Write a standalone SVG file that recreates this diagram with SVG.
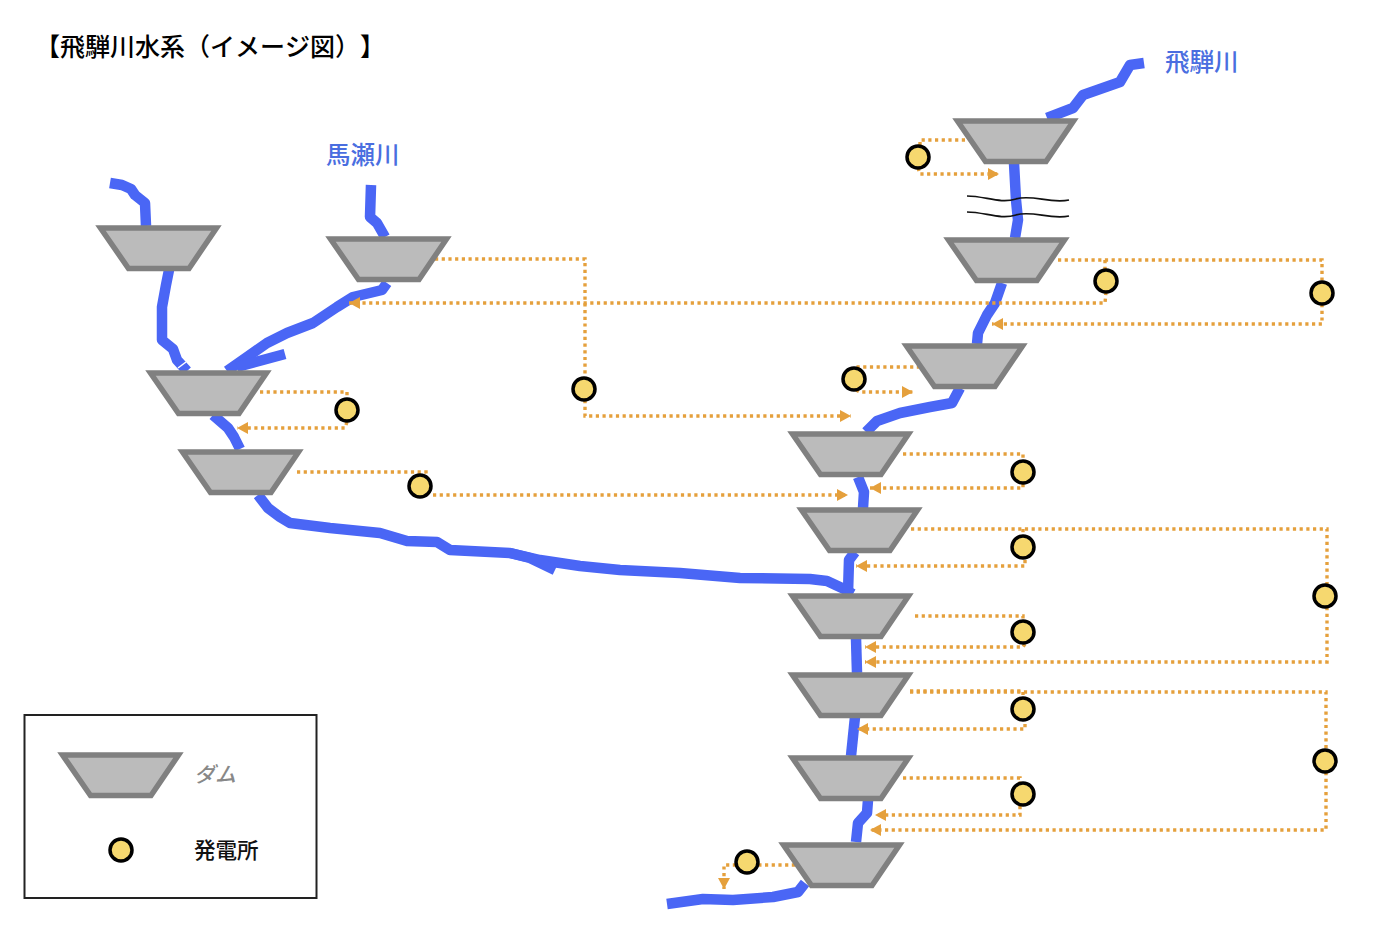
<svg xmlns="http://www.w3.org/2000/svg" width="1400" height="934" viewBox="0 0 1400 934">
<style>
text{font-family:"Noto Sans CJK JP","Noto Sans",sans-serif;font-kerning:none;font-feature-settings:"chws" 0,"palt" 0;text-spacing-trim:space-all}
.river{fill:none;stroke:#4a66f5;stroke-width:10.5;stroke-linejoin:round}
.pipe{fill:none;stroke:#e5a03c;stroke-width:3.4;stroke-dasharray:3.2 3.5;marker-end:url(#ah)}
.pipe0{fill:none;stroke:#e5a03c;stroke-width:3.4;stroke-dasharray:3.2 3.5}
.dam{fill:#bbb;stroke:#808080;stroke-width:5.5}
.ps{fill:#f6d86f;stroke:#000;stroke-width:3.5}
.lab{fill:#4a6ee0;font-size:24.5px;font-weight:500}
.wave{fill:none;stroke:#111;stroke-width:1.7}
</style>
<defs>
<marker id="ah" markerUnits="userSpaceOnUse" markerWidth="12" markerHeight="14" refX="11" refY="7" orient="auto"><path d="M0 1L11 7L0 13Z" fill="#e5a03c"/></marker>
<polygon id="d" points="4.5,3 120.5,3 93,43.5 32.5,43.5"/>
<circle id="c" r="11"/>
</defs>
<rect width="1400" height="934" fill="#fff"/>
<text x="35" y="56" font-size="25" fill="#000" font-weight="500">【飛騨川水系（イメージ図）】</text>
<text class="lab" x="1165" y="71">飛騨川</text>
<text class="lab" x="326" y="164">馬瀬川</text>
<g id="rivers">
<path class="river" d="M110 183L122 185L131 189L135 195L145 203L146 226"/>
<path class="river" d="M169 270L166 285L162 307L162 340L173 349L177 360L187 371"/>
<path class="river" d="M371 185L370 217L377 223L385 237"/>
<path class="river" d="M387 283L382 290L353 297L337 307L313 323L287 333L267 343L247 357L227 371"/>
<path class="river" d="M285 354L237 367"/>
<path class="river" d="M213 415L228 428L234 437L240 449"/>
<path class="river" d="M258 495L268 508L280 517L290 523L330 528L380 533L407 541L437 542L450 550L510 553L540 560L580 566L620 570L680 573L740 578L810 579L827 581L842 588L853 594"/>
<path class="river" d="M510 553L530 558L555 570"/>
<path class="river" d="M855 552L849 560L848 593"/>
<path class="river" d="M1144 63L1130 65L1120 82L1083 95L1073 108L1047 118"/>
<path class="river" d="M1014 163L1016 200L1018 220L1015 238"/>
<path class="river" d="M1002 283L995 303L987 315L978 333L977 344"/>
<path class="river" d="M960 388L952 403L930 407L900 413L877 421L866 432"/>
<path class="river" d="M858 477L864 492L863 508"/>
<path class="river" d="M856 638L857 673"/>
<path class="river" d="M855 717L851 756"/>
<path class="river" d="M868 800L867 813L858 823L856 842"/>
<path class="river" d="M805 883L798 892L773 897L733 900L703 899L667 904"/>
<path d="M178 368L186 362" stroke="#fff" stroke-width="1.5"/>
</g>
<g id="waves">
<path class="wave" d="M967 196C985 196 1000 204 1016 199C1032 194 1050 204 1069 200"/>
<path class="wave" d="M967 212C985 212 1000 220 1016 215C1032 210 1050 220 1069 216"/>
</g>
<g id="connectors">
<path class="pipe0" d="M965 140H920V146"/>
<path class="pipe" d="M918 168L920 174H999"/>
<path class="pipe0" d="M1058 260H1322V282"/>
<path class="pipe0" d="M1105 260V270"/>
<path class="pipe" d="M1322 304V324H992"/>
<path class="pipe" d="M1106 292L1105 303H349"/>
<path class="pipe0" d="M435 259H585V377"/>
<path class="pipe" d="M585 400V416H851"/>
<path class="pipe0" d="M260 392H347V398"/>
<path class="pipe" d="M347 422L345 428H237"/>
<path class="pipe0" d="M297 472H426V476"/>
<path class="pipe" d="M433 495H848"/>
<path class="pipe0" d="M920 367H856"/>
<path class="pipe" d="M856 390L860 392H913"/>
<path class="pipe0" d="M903 454H1023V460"/>
<path class="pipe" d="M1023 484V488H870"/>
<path class="pipe0" d="M911 529H1327V584"/>
<path class="pipe0" d="M1023 529V535"/>
<path class="pipe" d="M1327 607V662H865"/>
<path class="pipe" d="M1025 560V566H856"/>
<path class="pipe0" d="M915 616H1023V620"/>
<path class="pipe" d="M1025 644L1023 647H865"/>
<path class="pipe0" d="M910 692H1326V749"/>
<path class="pipe0" d="M910 691H1023V698"/>
<path class="pipe" d="M1326 772V830H870"/>
<path class="pipe" d="M1025 724V729H857"/>
<path class="pipe0" d="M903 778H1020V783"/>
<path class="pipe" d="M1020 806V815H875"/>
<path class="pipe0" d="M795 865H759"/>
<path class="pipe" d="M736 865H724V889"/>
</g>
<g id="dam1" class="dam"><use href="#d" x="96" y="225"/></g>
<g id="dam2" class="dam"><use href="#d" x="326" y="236"/></g>
<g id="dam3" class="dam"><use href="#d" x="146" y="370"/></g>
<g id="dam4" class="dam"><use href="#d" x="178" y="449"/></g>
<g id="dam5" class="dam"><use href="#d" x="953" y="118"/></g>
<g id="dam6" class="dam"><use href="#d" x="944" y="237"/></g>
<g id="dam7" class="dam"><use href="#d" x="902" y="343"/></g>
<g id="dam8" class="dam"><use href="#d" x="788" y="431"/></g>
<g id="dam9" class="dam"><use href="#d" x="797" y="507"/></g>
<g id="dam10" class="dam"><use href="#d" x="788" y="593"/></g>
<g id="dam11" class="dam"><use href="#d" x="788" y="672"/></g>
<g id="dam12" class="dam"><use href="#d" x="788" y="755"/></g>
<g id="dam13" class="dam"><use href="#d" x="779" y="842"/></g>
<g id="ps1" class="ps"><use href="#c" x="918" y="157"/></g>
<g id="ps2" class="ps"><use href="#c" x="1106" y="281"/></g>
<g id="ps3" class="ps"><use href="#c" x="1322" y="293"/></g>
<g id="ps4" class="ps"><use href="#c" x="854" y="379"/></g>
<g id="ps5" class="ps"><use href="#c" x="584" y="389"/></g>
<g id="ps6" class="ps"><use href="#c" x="347" y="410"/></g>
<g id="ps7" class="ps"><use href="#c" x="420" y="486"/></g>
<g id="ps8" class="ps"><use href="#c" x="1023" y="472"/></g>
<g id="ps9" class="ps"><use href="#c" x="1023" y="547"/></g>
<g id="ps10" class="ps"><use href="#c" x="1325" y="596"/></g>
<g id="ps11" class="ps"><use href="#c" x="1023" y="632"/></g>
<g id="ps12" class="ps"><use href="#c" x="1023" y="709"/></g>
<g id="ps13" class="ps"><use href="#c" x="1325" y="761"/></g>
<g id="ps14" class="ps"><use href="#c" x="1023" y="794"/></g>
<g id="ps15" class="ps"><use href="#c" x="747" y="862"/></g>
<g id="legend">
<rect x="24.5" y="715" width="292" height="183" fill="none" stroke="#222" stroke-width="2"/>
<g class="dam"><use href="#d" x="58" y="752"/></g>
<g class="ps"><use href="#c" x="121" y="850"/></g>
<text x="194" y="782" font-size="21" fill="#888" font-style="italic" font-weight="500">ダム</text>
<text x="194" y="858" font-size="21.5" fill="#111" font-weight="500">発電所</text>
</g>
</svg>
